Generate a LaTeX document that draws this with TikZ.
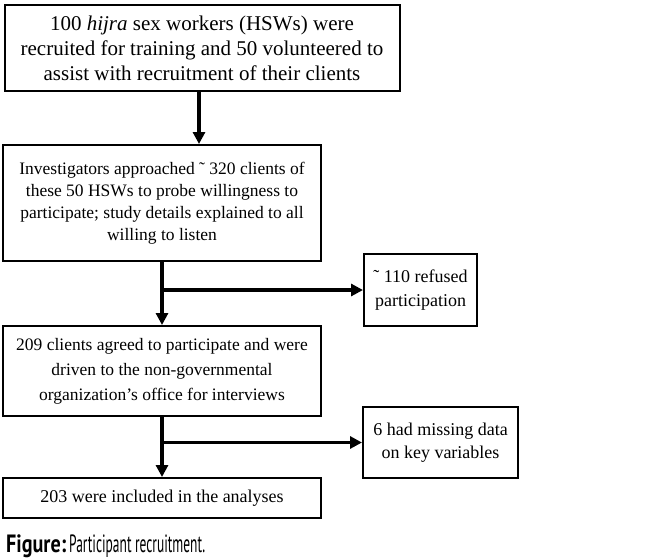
\documentclass[tikz,border=0pt]{standalone}
\usepackage{fontspec}
\setmainfont{Liberation Serif}
\newfontfamily\captionfont{PT Sans}
\usetikzlibrary{arrows.meta}
\tikzset{stage/.style={draw, line width=2pt, align=center, inner sep=2pt, font=\fontsize{18}{23.5}\selectfont}}
\tikzset{excluded/.style={stage}}
\tikzstyle{arrow} = [line width=3.2pt, -{Triangle[length=12pt, width=12pt]}]

\begin{document}
\begin{tikzpicture}[x=1pt, y=-1pt]
	\useasboundingbox (0,0) rectangle (650,558);
	% Nodes
	\node (trained) [stage, font=\fontsize{21}{25}\selectfont, minimum width=395pt, minimum height=86pt] at (202,48)
		{100 \textit{hijra} sex workers (HSWs) were\\ recruited for training and 50 volunteered to\\ assist with recruitment of their clients};

	\node (approached) [stage, font=\fontsize{17.5}{22}\selectfont, minimum width=318pt, minimum height=116pt] at (162,203)
		{Investigators approached ˜ 320 clients of\\ these 50 HSWs to probe willingness to\\ participate; study details explained to all\\ willing to listen};

	\node (refused) [excluded, minimum width=113pt, minimum height=72pt] at (420.5,290)
		{˜ 110 refused\\ participation};

	\node (agreed) [stage, font=\fontsize{17.5}{25}\selectfont, minimum width=318pt, minimum height=90pt] at (162,371)
		{209 clients agreed to participate and were\\ driven to the non-governmental\\ organization’s office for interviews};

	\node (missing) [excluded, minimum width=155pt, minimum height=71pt] at (440.5,442.5)
		{6 had missing data\\ on key variables};

	\node (included) [stage, minimum width=318pt, minimum height=40pt] at (162,498)
		{203 were included in the analyses};

	\node (caption) [anchor=base west, inner sep=0pt, font=\captionfont\fontsize{25}{25}\selectfont] at (6,552)
		{\resizebox{60pt}{\height}{\textbf{Figure:}}\hspace{3pt}\resizebox{136pt}{\height}{Participant recruitment.}};

	% Connectors
	\draw [arrow] ([xshift=-3pt]trained.south) -- ([xshift=-3pt]trained.south |- approached.north);
	\draw [arrow] (approached.south) -- (agreed.north);
	\draw [arrow] (approached.south |- refused.west) -- (refused.west);
	\draw [arrow] (agreed.south) -- (included.north);
	\draw [arrow] (agreed.south |- missing.west) -- (missing.west);

\end{tikzpicture}
\end{document}
